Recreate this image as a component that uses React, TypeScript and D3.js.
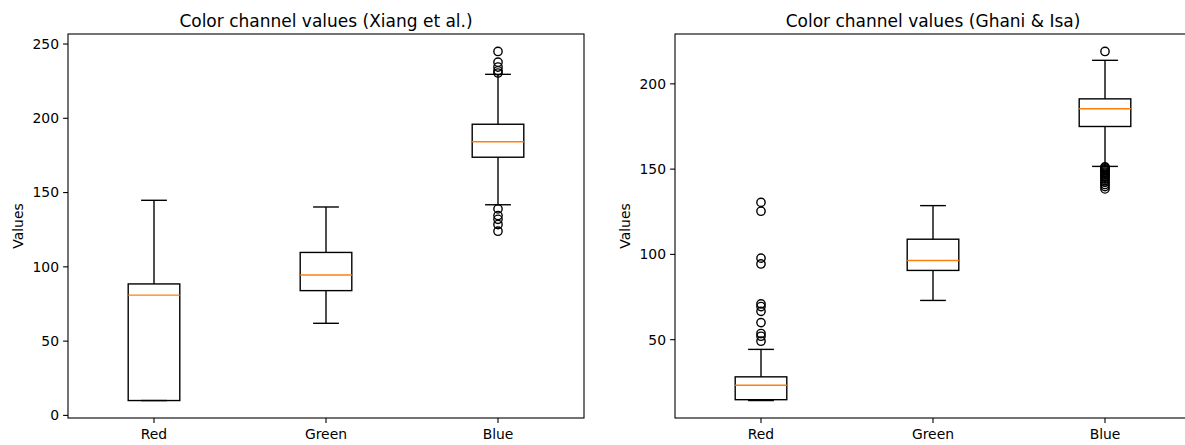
import React from "react";
import * as d3 from "d3";

const categories = ["Red", "Green", "Blue"];

// Xiang et al.
const xiangTitle = "Color channel values (Xiang et al.)";
const xiangLow = [10, 62, 141.8];
const xiangQ1 = [10, 84, 173.8];
const xiangMedian = [81, 94.5, 184.2];
const xiangQ3 = [88.5, 109.7, 196];
const xiangHigh = [144.8, 140.3, 229.6];
const xiangOutliers = [
  [],
  [],
  [245, 237.8, 234.5, 232, 230.5, 139, 134.5, 132, 128.5, 124],
];

// Ghani & Isa
const ghaniTitle = "Color channel values (Ghani & Isa)";
const ghaniLow = [14.3, 73, 151.6];
const ghaniQ1 = [14.8, 90.6, 175];
const ghaniMedian = [23.3, 96.4, 185.4];
const ghaniQ3 = [28.2, 108.9, 191.2];
const ghaniHigh = [44.3, 128.6, 213.8];
const ghaniOutliers = [
  [130.5, 125.3, 97.8, 94.4, 71, 69.4, 66.6, 60, 53.6, 52, 49.1],
  [],
  [219, 151.3, 150.8, 150.2, 149.6, 149, 148.3, 147.6, 146.8, 146, 145.2, 144.2, 143.2, 142.2, 141, 139.8, 138.4],
];

const FONT = "DejaVu Sans, sans-serif";

type PanelProps = {
  title: string;
  low: number[];
  q1: number[];
  med: number[];
  q3: number[];
  high: number[];
  outliers: number[][];
  left: number;
  width: number;
  top: number;
  bottom: number;
};

function Panel({ title, low, q1, med, q3, high, outliers, left, width, top, bottom }: PanelProps) {
  const all = [...low, ...high, ...outliers.flat()];
  const mn = d3.min(all) as number;
  const mx = d3.max(all) as number;
  const pad = (mx - mn) * 0.05;
  const y = d3.scaleLinear().domain([mn - pad, mx + pad]).range([bottom, top]);
  const x = d3.scaleLinear().domain([0.5, 3.5]).range([left, left + width]);
  const ticks = y.ticks(5);
  const boxW = x(1.3) - x(1);
  const capW = boxW / 2;
  const lw = 1.39;
  return (
    <g>
      <text x={left + width / 2} y={top - 7.5} textAnchor="middle" fontFamily={FONT} fontSize={17} fill="#000">
        {title}
      </text>
      {categories.map((c, i) => {
        const cx = x(i + 1);
        return (
          <g key={c}>
            <rect x={cx - boxW / 2} y={y(q3[i])} width={boxW} height={y(q1[i]) - y(q3[i])} fill="none" stroke="#000" strokeWidth={lw} />
            <line x1={cx} x2={cx} y1={y(q3[i])} y2={y(high[i])} stroke="#000" strokeWidth={lw} />
            <line x1={cx} x2={cx} y1={y(q1[i])} y2={y(low[i])} stroke="#000" strokeWidth={lw} />
            <line x1={cx - capW / 2} x2={cx + capW / 2} y1={y(high[i])} y2={y(high[i])} stroke="#000" strokeWidth={lw} />
            <line x1={cx - capW / 2} x2={cx + capW / 2} y1={y(low[i])} y2={y(low[i])} stroke="#000" strokeWidth={lw} />
            <line x1={cx - boxW / 2} x2={cx + boxW / 2} y1={y(med[i])} y2={y(med[i])} stroke="#ff7f0e" strokeWidth={lw} />
            {outliers[i].map((v, j) => (
              <circle key={j} cx={cx} cy={y(v)} r={4.17} fill="none" stroke="#000" strokeWidth={lw} />
            ))}
            <line x1={cx} x2={cx} y1={bottom} y2={bottom + 4.9} stroke="#000" strokeWidth={1.1} />
            <text x={cx} y={bottom + 21} textAnchor="middle" fontFamily={FONT} fontSize={13.9} fill="#000">
              {c}
            </text>
          </g>
        );
      })}
      {ticks.map((t) => (
        <g key={t}>
          <line x1={left - 4.9} x2={left} y1={y(t)} y2={y(t)} stroke="#000" strokeWidth={1.1} />
          <text x={left - 9} y={y(t)} dy="0.35em" textAnchor="end" fontFamily={FONT} fontSize={13.9} fill="#000">
            {t}
          </text>
        </g>
      ))}
      <text
        transform={`translate(${left - 45},${(top + bottom) / 2}) rotate(-90)`}
        textAnchor="middle"
        fontFamily={FONT}
        fontSize={13.9}
        fill="#000"
      >
        Values
      </text>
      <rect x={left} y={top} width={width} height={bottom - top} fill="none" stroke="#000" strokeWidth={1.1} />
    </g>
  );
}

export default function App() {
  return (
    <div style={{ position: "fixed", left: 0, top: 0 }}>
      <svg width={1185} height={445} style={{ display: "block", background: "#fff" }}>
        <Panel
          title={xiangTitle}
          low={xiangLow}
          q1={xiangQ1}
          med={xiangMedian}
          q3={xiangQ3}
          high={xiangHigh}
          outliers={xiangOutliers}
          left={68}
          width={516}
          top={34}
          bottom={418}
        />
        <Panel
          title={ghaniTitle}
          low={ghaniLow}
          q1={ghaniQ1}
          med={ghaniMedian}
          q3={ghaniQ3}
          high={ghaniHigh}
          outliers={ghaniOutliers}
          left={675}
          width={516}
          top={34}
          bottom={418}
        />
      </svg>
    </div>
  );
}
